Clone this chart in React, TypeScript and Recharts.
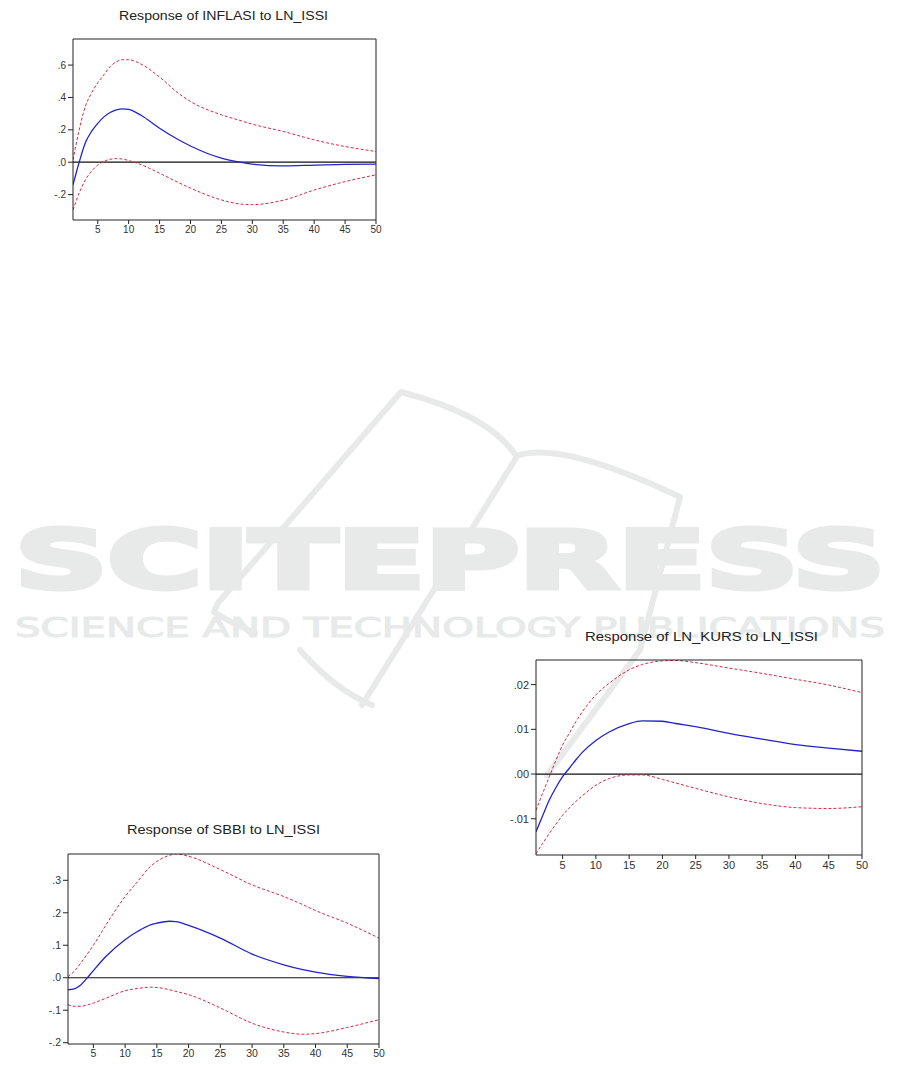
import React from 'react';
import {
  LineChart,
  Line,
  XAxis,
  YAxis,
  ReferenceLine,
} from 'recharts';

// periodos (eixo x: 1..50)
const xTicks = [5, 10, 15, 20, 25, 30, 35, 40, 45, 50];

// Response of INFLASI to LN_ISSI
const inflasiPeriods = [1, 2, 3, 4, 5, 6, 7, 8, 9, 10, 12, 15, 18, 20, 25, 28, 30, 35, 40, 45, 50];
const inflasiResp = [-0.14, 0.0, 0.12, 0.19, 0.24, 0.28, 0.307, 0.323, 0.33, 0.326, 0.29, 0.21, 0.14, 0.1, 0.025, 0.0, -0.012, -0.023, -0.018, -0.013, -0.012];
const inflasiUpper = [0.015, 0.2, 0.345, 0.427, 0.49, 0.54, 0.59, 0.62, 0.633, 0.633, 0.606, 0.526, 0.427, 0.375, 0.293, 0.258, 0.235, 0.19, 0.138, 0.097, 0.066];
const inflasiLower = [-0.295, -0.19, -0.11, -0.055, -0.018, 0.005, 0.018, 0.022, 0.02, 0.01, -0.015, -0.068, -0.125, -0.16, -0.233, -0.258, -0.262, -0.235, -0.172, -0.12, -0.078];
const inflasiYTicks = [-0.2, 0, 0.2, 0.4, 0.6];

// Response of LN_KURS to LN_ISSI
const kursPeriods = [1, 2, 3, 4, 5, 6, 7, 8, 10, 12, 15, 17, 20, 22, 25, 30, 35, 40, 45, 50];
const kursResp = [-0.0129, -0.0093, -0.0058, -0.003, -0.0006, 0.0013, 0.0032, 0.0049, 0.0075, 0.0094, 0.0113, 0.0119, 0.0118, 0.0113, 0.0106, 0.0091, 0.0078, 0.0066, 0.0058, 0.0051];
const kursUpper = [-0.0081, -0.0043, -0.0006, 0.0031, 0.0065, 0.0091, 0.0117, 0.014, 0.0177, 0.0203, 0.0233, 0.0245, 0.0253, 0.0254, 0.0249, 0.0237, 0.0225, 0.0212, 0.0199, 0.0182];
const kursLower = [-0.0178, -0.0155, -0.0133, -0.0112, -0.0092, -0.0076, -0.0061, -0.0048, -0.0025, -0.001, -0.0002, -0.0002, -0.0012, -0.002, -0.0032, -0.0051, -0.0066, -0.0075, -0.0077, -0.0073];
const kursYTicks = [-0.01, 0, 0.01, 0.02];

// Response of SBBI to LN_ISSI
const sbbiPeriods = [1, 2, 3, 4, 5, 7, 10, 12, 14, 15, 17, 18, 20, 25, 30, 35, 38, 40, 45, 50];
const sbbiResp = [-0.037, -0.034, -0.022, -0.001, 0.022, 0.066, 0.117, 0.143, 0.163, 0.168, 0.174, 0.173, 0.161, 0.122, 0.073, 0.04, 0.025, 0.017, 0.004, -0.003];
const sbbiUpper = [0.004, 0.02, 0.045, 0.072, 0.1, 0.163, 0.25, 0.297, 0.343, 0.358, 0.377, 0.381, 0.374, 0.333, 0.286, 0.25, 0.225, 0.207, 0.168, 0.122];
const sbbiLower = [-0.083, -0.088, -0.088, -0.084, -0.078, -0.063, -0.04, -0.033, -0.029, -0.03, -0.037, -0.042, -0.052, -0.093, -0.14, -0.167, -0.174, -0.172, -0.153, -0.129];
const sbbiYTicks = [-0.2, -0.1, 0, 0.1, 0.2, 0.3];

const BLUE = '#2323c8';
const RED = '#d42a45';
const FONT = '"Liberation Sans", Arial, sans-serif';
const WM = '#e8eaea';

// formato EViews: ".6", "-.2", ".00"
const evFormat = (decimals: number) => (v: number) => {
  const s = Math.abs(v).toFixed(decimals).replace(/^0/, '');
  return v < 0 ? '-' + s : s;
};

const toRows = (periods: number[], resp: number[], upper: number[], lower: number[]) =>
  periods.map((p, i) => ({ periodo: p, resp: resp[i], upper: upper[i], lower: lower[i] }));

interface IrfProps {
  left: number;
  top: number;
  width: number;
  height: number;
  margin: { top: number; right: number; bottom: number; left: number };
  data: { periodo: number; resp: number; upper: number; lower: number }[];
  yDomain: [number, number];
  yTicks: number[];
  decimals: number;
  fontSize: number;
}

const IrfChart: React.FC<IrfProps> = ({ left, top, width, height, margin, data, yDomain, yTicks, decimals, fontSize }) => (
  <div style={{ position: 'absolute', left, top, width, height }}>
    <LineChart width={width} height={height} data={data} margin={margin}>
      <XAxis
        dataKey="periodo"
        type="number"
        domain={[1, 50]}
        ticks={xTicks}
        allowDataOverflow
        stroke="#222"
        tickSize={4}
        tickMargin={2}
        height={20}
        tick={{ fontSize, fill: '#333', fontFamily: FONT }}
      />
      <XAxis xAxisId="top" dataKey="periodo" orientation="top" type="number" domain={[1, 50]} height={1} tick={false} tickLine={false} stroke="#222" />
      <YAxis
        type="number"
        domain={yDomain}
        ticks={yTicks}
        allowDataOverflow
        tickFormatter={evFormat(decimals)}
        stroke="#222"
        tickSize={5}
        tickMargin={2}
        width={40}
        tick={{ fontSize, fill: '#333', fontFamily: FONT }}
      />
      <YAxis yAxisId="right" orientation="right" type="number" domain={yDomain} width={1} tick={false} tickLine={false} stroke="#222" />
      <ReferenceLine y={0} stroke="#111" strokeWidth={1.2} />
      <Line type="monotone" dataKey="upper" stroke={RED} strokeWidth={1} strokeDasharray="3 2" dot={false} isAnimationActive={false} />
      <Line type="monotone" dataKey="lower" stroke={RED} strokeWidth={1} strokeDasharray="3 2" dot={false} isAnimationActive={false} />
      <Line type="monotone" dataKey="resp" stroke={BLUE} strokeWidth={1.3} dot={false} isAnimationActive={false} />
      {/* eixos extras so para fechar a moldura */}
      <Line xAxisId="top" yAxisId="right" dataKey="resp" stroke="none" dot={false} legendType="none" isAnimationActive={false} />
    </LineChart>
  </div>
);

const Watermark: React.FC = () => (
  <svg width={901} height={1074} style={{ position: 'absolute', left: 0, top: 0 }}>
    <g fill="none" stroke={WM} strokeWidth={6} strokeLinecap="round" strokeLinejoin="round">
      <path d="M 218 603 L 401 392 Q 490 415 516 456" />
      <path d="M 516 456 Q 560 440 680 497 L 640 650 L 547 775" />
      <path d="M 516 458 L 362 705" />
      <path d="M 218 603 L 214 612 Q 235 625 255 633" />
      <path d="M 300 650 Q 335 690 372 705" />
    </g>
    <text x={15} y={588} fill={WM} stroke={WM} strokeWidth={5} strokeLinejoin="miter" fontFamily='"DejaVu Sans", sans-serif' fontWeight="bold" fontSize={80} textLength={870} lengthAdjust="spacingAndGlyphs">
      SCITEPRESS
    </text>
    <text x={15} y={637} fill={WM} stroke={WM} strokeWidth={1} fontFamily='"DejaVu Sans", sans-serif' fontSize={26} textLength={870} lengthAdjust="spacingAndGlyphs">
      SCIENCE AND TECHNOLOGY PUBLICATIONS
    </text>
  </svg>
);

const Titles: React.FC = () => (
  <svg width={901} height={1074} style={{ position: 'absolute', left: 0, top: 0, pointerEvents: 'none' }}>
    <g fill="#222" fontFamily={FONT} fontSize={13}>
      <text x={119} y={20} textLength={209} lengthAdjust="spacingAndGlyphs">Response of INFLASI to LN_ISSI</text>
      <text x={585} y={641} textLength={233} lengthAdjust="spacingAndGlyphs">Response of LN_KURS to LN_ISSI</text>
      <text x={127} y={834} textLength={193} lengthAdjust="spacingAndGlyphs">Response of SBBI to LN_ISSI</text>
    </g>
  </svg>
);

export default function App() {
  return (
    <div style={{ position: 'absolute', left: 0, top: 0, width: 901, height: 1074, background: '#fff', overflow: 'hidden' }}>
      <Watermark />
      <IrfChart
        left={0}
        top={0}
        width={400}
        height={250}
        margin={{ top: 38, right: 23, bottom: 10, left: 33 }}
        data={toRows(inflasiPeriods, inflasiResp, inflasiUpper, inflasiLower)}
        yDomain={[-0.357, 0.761]}
        yTicks={inflasiYTicks}
        decimals={1}
        fontSize={10}
      />
      <IrfChart
        left={480}
        top={645}
        width={400}
        height={240}
        margin={{ top: 14, right: 17, bottom: 10, left: 16 }}
        data={toRows(kursPeriods, kursResp, kursUpper, kursLower)}
        yDomain={[-0.0181, 0.0255]}
        yTicks={kursYTicks}
        decimals={2}
        fontSize={11}
      />
      <IrfChart
        left={0}
        top={840}
        width={400}
        height={234}
        margin={{ top: 13, right: 20, bottom: 10, left: 28 }}
        data={toRows(sbbiPeriods, sbbiResp, sbbiUpper, sbbiLower)}
        yDomain={[-0.204, 0.381]}
        yTicks={sbbiYTicks}
        decimals={1}
        fontSize={10.5}
      />
      <Titles />
    </div>
  );
}
